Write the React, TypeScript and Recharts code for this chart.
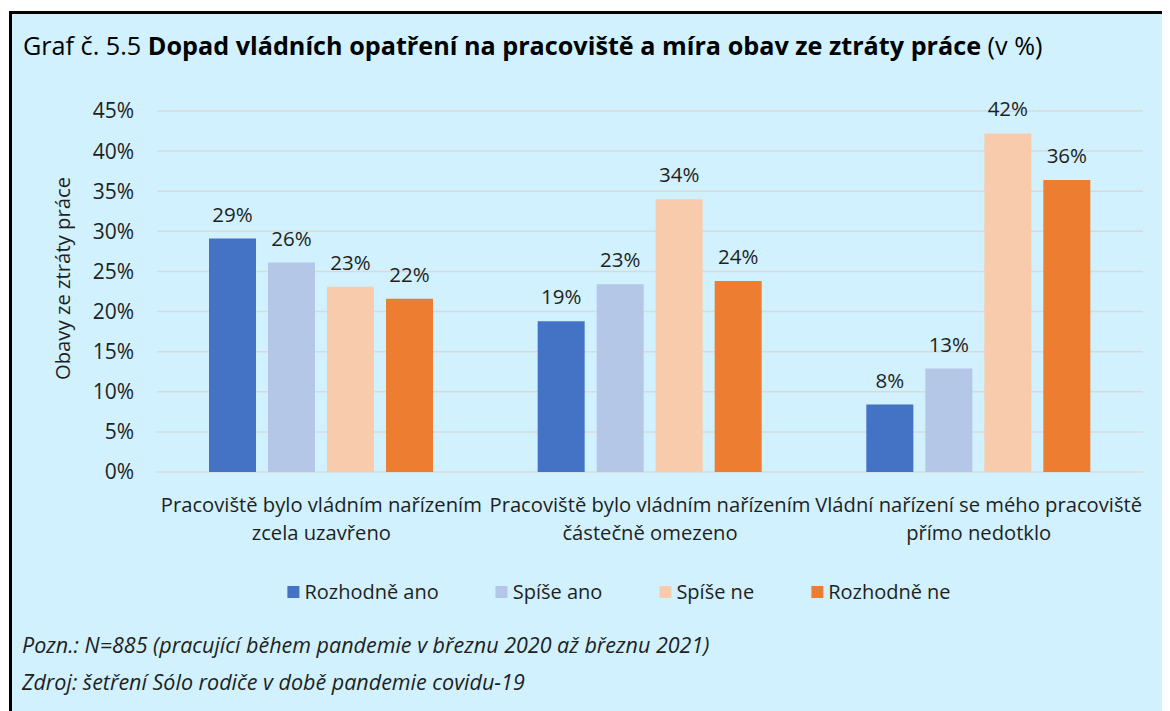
import { BarChart, Bar, XAxis, YAxis, CartesianGrid, LabelList } from "recharts";

const categories = [
	"Pracoviště bylo vládním nařízením\nzcela uzavřeno",
	"Pracoviště bylo vládním nařízením\nčástečně omezeno",
	"Vládní nařízení se mého pracoviště\npřímo nedotklo",
];

const seriesNames = ["Rozhodně ano", "Spíše ano", "Spíše ne", "Rozhodně ne"];
const rozhodneAno = [29.1, 18.8, 8.4];
const spiseAno = [26.1, 23.4, 12.9];
const spiseNe = [23.1, 34.0, 42.2];
const rozhodneNe = [21.6, 23.8, 36.4];

const yTicks = [0, 5, 10, 15, 20, 25, 30, 35, 40, 45];

const COLORS = ["#4472c4", "#b4c7e7", "#f8cbad", "#ed7d31"];
const BG = "#d0f1fd";
const FONT = "'Open Sans', 'Noto Sans', sans-serif";
const TEXT = "#1f1f1f";

const CategoryTick = ({ x, y, payload }: any) => {
	const lines = String(payload.value).split("\n");
	return (
		<text x={x} y={y} textAnchor="middle" fill={TEXT} fontSize={20.2} fontFamily={FONT}>
			{lines.map((line, i) => (
				<tspan key={i} x={x} dy={i === 0 ? 40 : 28}>
					{line}
				</tspan>
			))}
		</text>
	);
};

const YTitle = ({ viewBox }: any) => {
	const cy = viewBox.y + viewBox.height / 2 - 13;
	return (
		<text
			transform={`translate(54, ${cy}) rotate(-90)`}
			textAnchor="middle"
			dominantBaseline="central"
			fill={TEXT}
			fontSize={20.3}
			fontFamily={FONT}
		>
			Obavy ze ztráty práce
		</text>
	);
};

export default function App() {
	const data = categories.map((cat, i) => ({
		cat,
		s0: rozhodneAno[i],
		s1: spiseAno[i],
		s2: spiseNe[i],
		s3: rozhodneNe[i],
	}));
	const keys = ["s0", "s1", "s2", "s3"];

	return (
		<div
			style={{
				position: "relative",
				width: 1162,
				height: 703,
				overflow: "hidden",
				fontFamily: FONT,
				color: TEXT,
			}}
		>
			<div
				style={{
					position: "absolute",
					left: 1,
					top: 3,
					right: -10,
					bottom: -10,
					borderTop: "3px solid #000",
					borderLeft: "3px solid #000",
					background: BG,
				}}
			/>
			<div
				style={{
					position: "absolute",
					left: 15,
					top: 20,
					fontSize: 25.2,
					color: "#000",
					whiteSpace: "nowrap",
				}}
			>
				Graf č. 5.5 <b>Dopad vládních opatření na pracoviště a míra obav ze ztráty práce</b> (v %)
			</div>
			<div style={{ position: "absolute", left: 0, top: 0 }}>
				<BarChart
					width={1162}
					height={560}
					data={data}
					margin={{ top: 103, right: 27, left: 0, bottom: 26 }}
					barSize={47}
					barGap={12}
				>
					<CartesianGrid vertical={false} stroke="#d9d9d9" strokeWidth={1.5} />
					<XAxis
						dataKey="cat"
						axisLine={false}
						tickLine={false}
						tickSize={0}
						tickMargin={0}
						height={70}
						interval={0}
						tick={<CategoryTick />}
					/>
					<YAxis
						width={149}
						domain={[0, 45]}
						ticks={yTicks}
						interval={0}
						axisLine={false}
						tickLine={false}
						tickSize={0}
						tickMargin={23}
						tickFormatter={(v) => `${v}%`}
						tick={{ fontSize: 21, fill: TEXT, fontFamily: FONT }}
						label={<YTitle />}
					/>
					{keys.map((k, i) => (
						<Bar key={k} dataKey={k} name={seriesNames[i]} fill={COLORS[i]} isAnimationActive={false}>
							<LabelList
								dataKey={k}
								position="top"
								offset={17}
								formatter={(v: any) => `${Math.round(Number(v))}%`}
								style={{ fontSize: 20.5, fill: TEXT, fontFamily: FONT }}
							/>
						</Bar>
					))}
				</BarChart>
			</div>
			<div
				style={{
					position: "absolute",
					left: 611,
					top: 570,
					transform: "translateX(-50%)",
					display: "flex",
					alignItems: "center",
					whiteSpace: "nowrap",
					fontSize: 20,
				}}
			>
				{seriesNames.map((name, i) => (
					<div
						key={name}
						style={{
							display: "flex",
							alignItems: "center",
							marginRight: i < seriesNames.length - 1 ? 57 : 0,
						}}
					>
						<span
							style={{
								display: "inline-block",
								width: 12,
								height: 12,
								background: COLORS[i],
								marginRight: 5,
							}}
						/>
						<span>{name}</span>
					</div>
				))}
			</div>
			<div
				style={{
					position: "absolute",
					left: 14,
					top: 622,
					fontSize: 21.5,
					fontStyle: "italic",
					whiteSpace: "nowrap",
				}}
			>
				Pozn.: N=885 (pracující během pandemie v březnu 2020 až březnu 2021)
			</div>
			<div
				style={{
					position: "absolute",
					left: 14,
					top: 659,
					fontSize: 21.5,
					fontStyle: "italic",
					whiteSpace: "nowrap",
				}}
			>
				Zdroj: šetření Sólo rodiče v době pandemie covidu-19
			</div>
		</div>
	);
}
